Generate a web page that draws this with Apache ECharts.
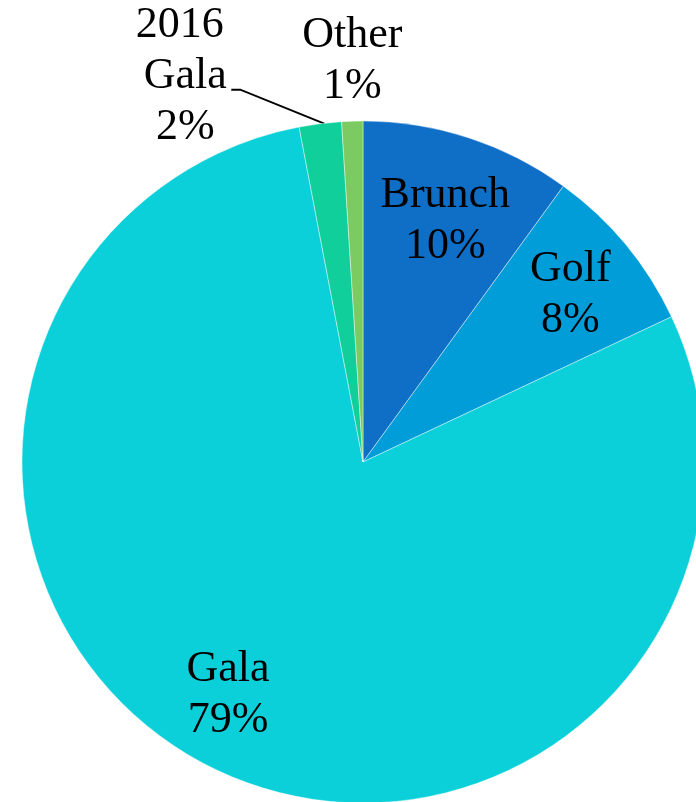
<!DOCTYPE html>
<html>
<head>
<meta charset="utf-8">
<script src="https://cdn.jsdelivr.net/npm/echarts@6/dist/echarts.min.js"></script>
<style>
  html, body { margin: 0; padding: 0; background: #fff; }
  #chart { width: 696px; height: 802px; }
</style>
</head>
<body>
<div id="chart"></div>
<script>
// Share of revenue by event
const categories = ['Brunch', 'Golf', 'Gala', '2016 Gala', 'Other'];
const shares = [10, 8, 79, 2, 1];
const colors = ['#0F6FC6', '#009DD9', '#0BD0D9', '#10CF9B', '#7CCA62'];
// slices whose labels sit outside the pie
const outsideNames = ['2016 Gala', 'Other'];

const FONT = '"Liberation Serif", "Times New Roman", serif';
const CENTER = [363, 462];
const R = 341;

const pieData = categories.map((name, i) => ({
  name,
  value: shares[i],
  itemStyle: { color: colors[i] }
}));

// inside labels: drawn from a transparent ring so they sit ~3/4 of the way out
const ringData = categories.map((name, i) => ({
  name,
  value: shares[i],
  label: { show: outsideNames.indexOf(name) < 0 }
}));

// outside labels
const outerData = categories.map((name, i) => ({
  name,
  value: shares[i],
  label: { show: outsideNames.indexOf(name) >= 0 },
  labelLine: { show: name === '2016 Gala' }
}));

// small nudges for the inside labels (best-fit placement)
const insideNudge = {
  'Brunch': [0, 12],
  'Golf': [2, 3],
  'Gala': [-14, -5]
};

const chart = echarts.init(document.getElementById('chart'), null, { renderer: 'canvas' });

const labelText = {
  color: '#000',
  fontFamily: FONT,
  fontSize: 44,
  lineHeight: 51,
  align: 'center'
};

chart.setOption({
  animation: false,
  series: [
    {
      type: 'pie',
      center: CENTER,
      radius: [0, R],
      startAngle: 90,
      clockwise: true,
      silent: true,
      label: { show: false },
      labelLine: { show: false },
      itemStyle: { borderColor: 'rgba(255,255,255,0.7)', borderWidth: 0.6 },
      data: pieData
    },
    {
      type: 'pie',
      center: CENTER,
      radius: [186, R],
      startAngle: 90,
      clockwise: true,
      silent: true,
      itemStyle: { color: 'rgba(0,0,0,0)' },
      label: Object.assign({ position: 'inside', formatter: '{b}\n{d}%' }, labelText),
      labelLine: { show: false },
      labelLayout: function (p) {
        const n = insideNudge[categories[p.dataIndex]];
        return n ? { dx: n[0], dy: n[1] } : {};
      },
      data: ringData
    },
    {
      type: 'pie',
      center: CENTER,
      radius: [0, R],
      startAngle: 90,
      clockwise: true,
      silent: true,
      itemStyle: { color: 'rgba(0,0,0,0)' },
      label: Object.assign({
        position: 'outside',
        formatter: '{b}\n{d}%',
        width: 120,
        overflow: 'break'
      }, labelText),
      labelLine: { show: true, length: 10, length2: 10, lineStyle: { color: '#000', width: 2 } },
      labelLayout: function (p) {
        const name = categories[p.dataIndex];
        const edge = p.labelLinePoints ? p.labelLinePoints[0] : null;
        if (!edge) return {};
        if (name === '2016 Gala') {
          return {
            x: edge[0] - 135,
            y: edge[1] - 47,
            align: 'center',
            verticalAlign: 'middle',
            labelLinePoints: [
              [edge[0] + 4, edge[1]],
              [edge[0] - 80, edge[1] - 34],
              [edge[0] - 89, edge[1] - 34]
            ]
          };
        }
        if (name === 'Other') {
          return {
            x: edge[0],
            y: edge[1] - 60,
            align: 'center',
            verticalAlign: 'middle'
          };
        }
        return {};
      },
      data: outerData
    }
  ]
});
</script>
</body>
</html>
